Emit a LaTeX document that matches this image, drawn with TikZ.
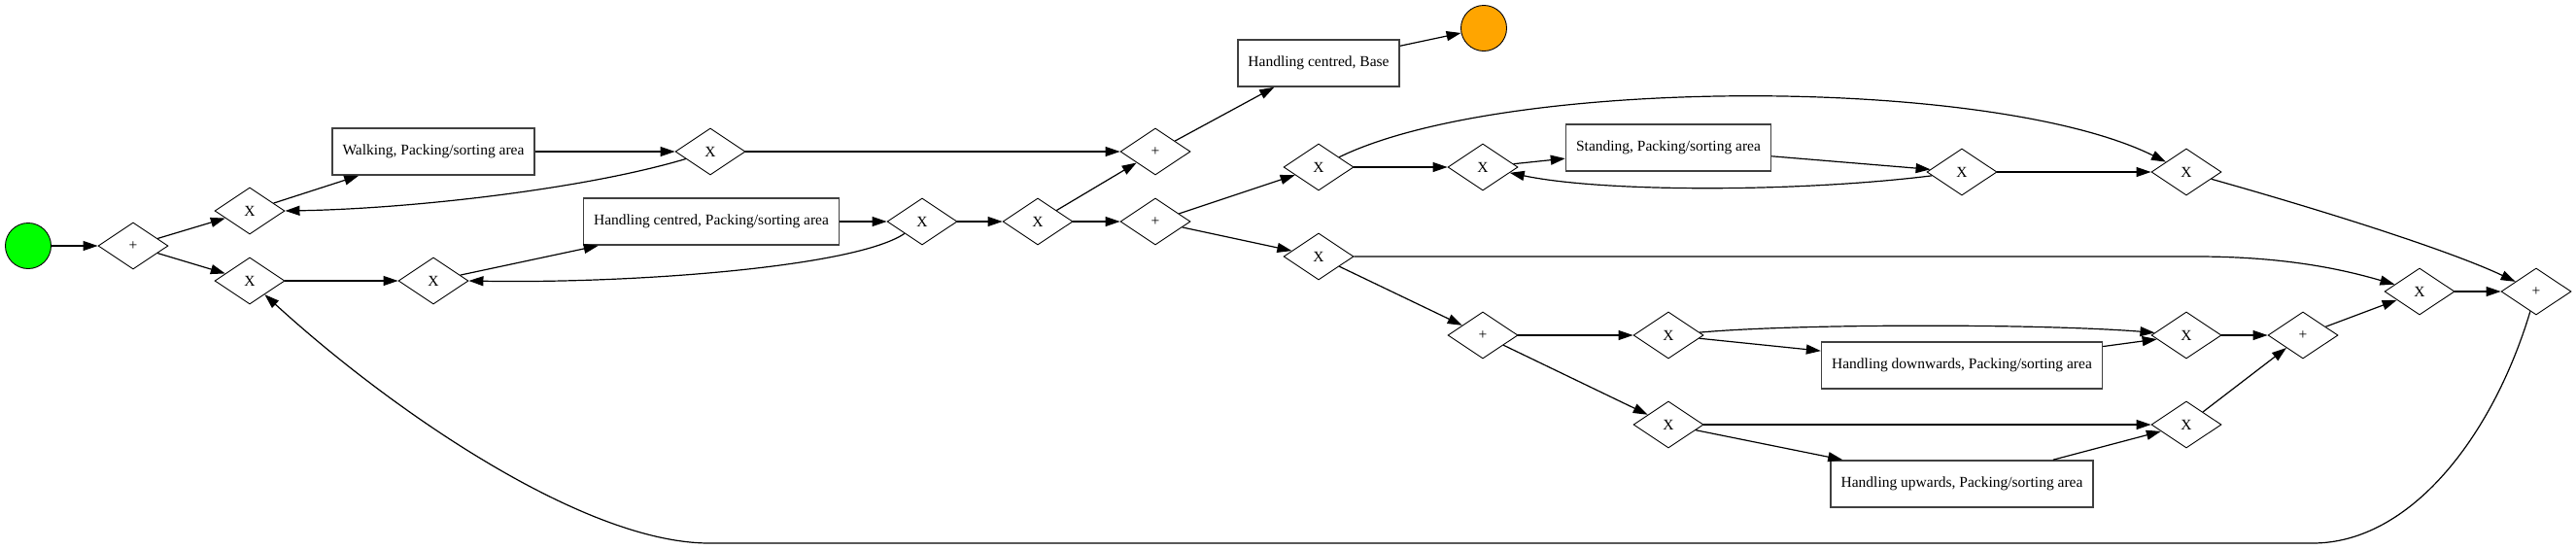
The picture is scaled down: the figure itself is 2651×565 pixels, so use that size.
\documentclass[tikz,border=0pt]{standalone}
\usepackage{fontspec}
\setmainfont{Liberation Serif}
\usepackage{xcolor}
\usetikzlibrary{arrows.meta,shapes.geometric}
\definecolor{startgreen}{HTML}{00FF00}
\definecolor{endorange}{HTML}{FFA500}

\begin{document}
\begin{tikzpicture}[x=1pt, y=-1pt, >={Triangle[length=15pt,width=10pt]},
        every node/.style={font=\fontsize{15.5}{18}\selectfont},
        gate/.style={draw, diamond, aspect=1.5, minimum width=72pt, minimum height=48pt, inner sep=0pt, line width=0.9pt},
        task/.style={draw=black!75, rectangle, minimum height=48pt, inner xsep=10.5pt, line width=1.6pt},
        event/.style={draw, circle, minimum size=47pt, inner sep=0pt, line width=0.9pt},
        flow/.style={->, line width=1.2pt}]
        \useasboundingbox (0,0) rectangle (2651,565);

        \node[event, fill=startgreen] (start) at (29,253) {};
        \node[event, fill=endorange] (stop) at (1527,29) {};

        \node[gate] (p1) at (137,253) {+};
        \node[gate] (x1) at (257,217) {X};
        \node[gate] (x2) at (257,289) {X};
        \node[gate] (x3) at (731,156) {X};
        \node[gate] (x4) at (446,289) {X};
        \node[gate] (x5) at (949,228) {X};
        \node[gate] (x6) at (1068,228) {X};
        \node[gate] (p2) at (1189,156) {+};
        \node[gate] (p3) at (1189,228) {+};
        \node[gate] (x7) at (1357,172) {X};
        \node[gate] (x8) at (1357,264) {X};
        \node[gate] (x9) at (1526,172) {X};
        \node[gate] (x10) at (2019,177) {X};
        \node[gate] (x11) at (2250,177) {X};
        \node[gate] (p4) at (1526,345) {+};
        \node[gate] (x13) at (1717,345) {X};
        \node[gate] (x14) at (2250,345) {X};
        \node[gate] (x15) at (1717,437) {X};
        \node[gate] (x16) at (2250,437) {X};
        \node[gate] (p5) at (2370,345) {+};
        \node[gate] (x12) at (2490,300) {X};
        \node[gate] (pe) at (2610,300) {+};

        \node[task] (walk) at (446,156) {Walking, Packing/sorting area};
        \node[task] (hcps) at (732,228) {Handling centred, Packing/sorting area};
        \node[task] (hcb) at (1357,65) {Handling centred, Base};
        \node[task] (stand) at (1717,152) {Standing, Packing/sorting area};
        \node[task] (hdown) at (2019,376) {Handling downwards, Packing/sorting area};
        \node[task] (hup) at (2019,498) {Handling upwards, Packing/sorting area};

        \draw[flow] (start) -- (p1);
        \draw[flow] (p1) -- (x1);
        \draw[flow] (p1) -- (x2);
        \draw[flow] (x1) -- (walk);
        \draw[flow] (walk) -- (x3);
        \draw[flow] (x3) .. controls (600,195) and (420,215) .. (x1.east);
        \draw[flow] (x3) -- (p2);
        \draw[flow] (x2) -- (x4);
        \draw[flow] (x4) -- (hcps);
        \draw[flow] (hcps) -- (x5);
        \draw[flow] (x5) .. controls (880,275) and (650,292) .. (x4.east);
        \draw[flow] (x5) -- (x6);
        \draw[flow] (x6) -- (p2);
        \draw[flow] (x6) -- (p3);
        \draw[flow] (p2) -- (hcb);
        \draw[flow] (hcb) -- (stop);
        \draw[flow] (p3) -- (x7);
        \draw[flow] (p3) -- (x8);
        \draw[flow] (x7) -- (x9);
        \draw[flow] (x7) .. controls (1550,78) and (2050,78) .. (x11);
        \draw[flow] (x9) -- (stand);
        \draw[flow] (stand) -- (x10);
        \draw[flow] (x10) .. controls (1850,198) and (1650,198) .. (x9);
        \draw[flow] (x10) -- (x11);
        \draw[flow] (x11) .. controls (2420,225) and (2530,262) .. (pe);
        \draw[flow] (x8.east) -- (2260,264) .. controls (2360,264) and (2420,280) .. (x12);
        \draw[flow] (x8) -- (p4);
        \draw[flow] (p4) -- (x13);
        \draw[flow] (p4) -- (x15);
        \draw[flow] (x13) .. controls (1850,333) and (2100,333) .. (x14);
        \draw[flow] (x13) -- (hdown);
        \draw[flow] (hdown) -- (x14);
        \draw[flow] (x15) -- (x16);
        \draw[flow] (x15) -- (hup);
        \draw[flow] (hup) -- (x16);
        \draw[flow] (x14) -- (p5);
        \draw[flow] (x16) -- (p5);
        \draw[flow] (p5) -- (x12);
        \draw[flow] (x12) -- (pe);
        \draw[flow] (pe) .. controls (2565,450) and (2480,559) .. (2380,559) -- (730,559) .. controls (600,559) and (400,420) .. (x2);
\end{tikzpicture}
\end{document}
